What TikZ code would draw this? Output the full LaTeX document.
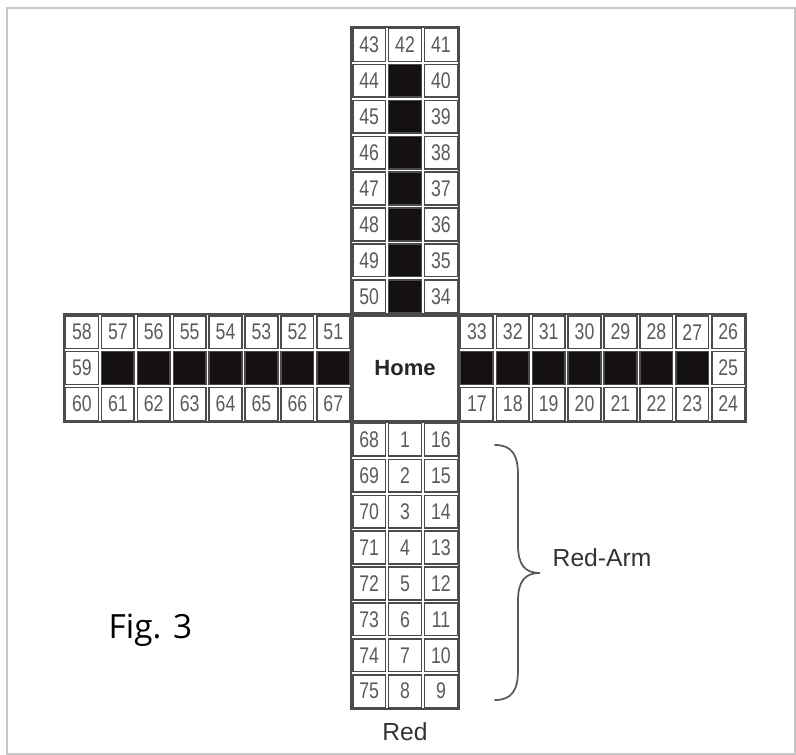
\documentclass[tikz,border=0pt]{standalone}
\usepackage{fontspec}
\setmainfont{Liberation Sans}
\newfontfamily\figfont{Open Sans}
\usepackage{graphicx}
\usetikzlibrary{positioning}
\definecolor{lineGray}{HTML}{4C4C4C}
\definecolor{numGray}{HTML}{5A5A5A}
\definecolor{darkFill}{HTML}{161111}
\def\cellSize{24.5pt}
\def\homeSize{78.4pt}
\newcommand{\cellNum}[1]{\scalebox{0.78}[1]{#1}}
\tikzset{% board styles
  cell/.style = {draw=lineGray, line width=1.1pt, rectangle, minimum size=\cellSize,
    inner sep=0, text=numGray, font=\fontsize{17}{17}\selectfont},
  dark cell/.style = {cell, fill=darkFill},
  arm/.style = {draw=lineGray, line width=1.2pt},
  caption/.style = {text=black!80, font=\fontsize{18.5}{18.5}\selectfont},
}
\begin{document}
\begin{tikzpicture}[x=0.75pt, y=-0.75pt]
  \useasboundingbox (0,0) rectangle (796,755);
  \draw[black!22, line width=0.8pt] (7,8) rectangle (795,754);

  \begin{scope}[shift={(64,27)}, x=26.925pt, y=-26.925pt]
    % outlines of the four arms
    \draw[arm] (0,8) rectangle (8,11);
    \draw[arm] (11,8) rectangle (19,11);
    \draw[arm] (8,0) rectangle (11,8);
    \draw[arm] (8,11) rectangle (11,19);

    % top arm
    \foreach \r in {0,...,7} {
      \pgfmathtruncatemacro\nL{43+\r}
      \pgfmathtruncatemacro\nR{41-\r}
      \node[cell] (c\nL) at (8.5,\r+0.5) {\cellNum{\nL}};
      \node[cell] (c\nR) at (10.5,\r+0.5) {\cellNum{\nR}};
    }
    \node[cell] (c42) at (9.5,0.5) {\cellNum{42}};
    \foreach \r in {1,...,7}
      \node[dark cell] (topDark\r) at (9.5,\r+0.5) {};

    % left arm
    \foreach \c in {0,...,7} {
      \pgfmathtruncatemacro\nT{58-\c}
      \pgfmathtruncatemacro\nB{60+\c}
      \node[cell] (c\nT) at (\c+0.5,8.5) {\cellNum{\nT}};
      \node[cell] (c\nB) at (\c+0.5,10.5) {\cellNum{\nB}};
    }
    \node[cell] (c59) at (0.5,9.5) {\cellNum{59}};
    \foreach \c in {1,...,7}
      \node[dark cell] (leftDark\c) at (\c+0.5,9.5) {};

    % right arm
    \foreach \c in {11,...,18} {
      \pgfmathtruncatemacro\nT{44-\c}
      \pgfmathtruncatemacro\nB{6+\c}
      \node[cell] (c\nT) at (\c+0.5,8.5) {\cellNum{\nT}};
      \node[cell] (c\nB) at (\c+0.5,10.5) {\cellNum{\nB}};
    }
    \node[cell] (c25) at (18.5,9.5) {\cellNum{25}};
    \foreach \c in {11,...,17}
      \node[dark cell] (rightDark\c) at (\c+0.5,9.5) {};

    % bottom arm (red)
    \foreach \r in {11,...,18} {
      \pgfmathtruncatemacro\nL{57+\r}
      \pgfmathtruncatemacro\nM{\r-10}
      \pgfmathtruncatemacro\nR{27-\r}
      \node[cell] (c\nL) at (8.5,\r+0.5) {\cellNum{\nL}};
      \node[cell] (c\nM) at (9.5,\r+0.5) {\cellNum{\nM}};
      \node[cell] (c\nR) at (10.5,\r+0.5) {\cellNum{\nR}};
    }

    \node[cell, minimum size=\homeSize, text=black!85,
      font=\fontsize{16.5}{16.5}\selectfont\bfseries] (home) at (9.5,9.5) {Home};
  \end{scope}

  \node[caption] (red) at (405,732) {Red};
  \node[caption, anchor=west] (redArm) at (548,558) {Red-Arm};
  \node[font=\figfont\fontsize{25}{25}\selectfont, anchor=west] (fig) at (104,630) {Fig. 3};

  % brace of the red arm
  \draw[black!65, line width=1.3pt, line cap=round]
    (495,445) .. controls (512,445) and (518,455) .. (518,475) -- (518,545)
    .. controls (518,565) and (525,573) .. (540,573)
    .. controls (525,573) and (518,581) .. (518,601) -- (518,670)
    .. controls (518,690) and (512,700) .. (495,700);
\end{tikzpicture}
\end{document}
